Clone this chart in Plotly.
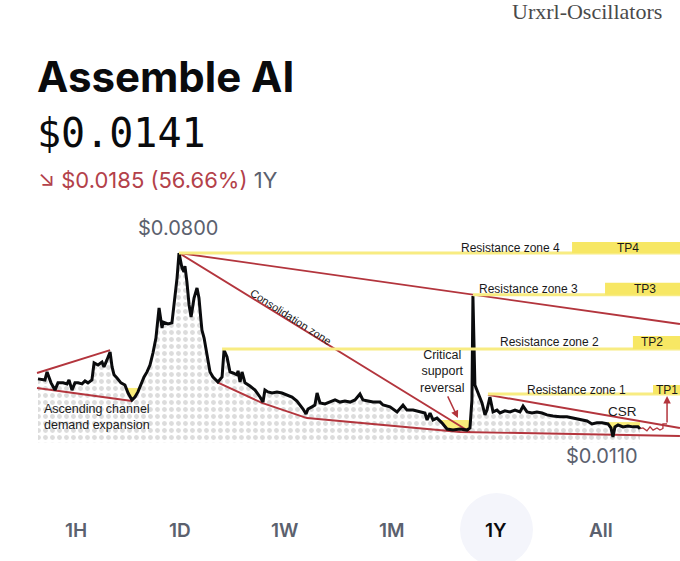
import plotly.graph_objects as go

# ---------------- data ----------------
days = [0, 4.2, 5.5, 7.9, 10.3, 12.1, 15.2, 17.6, 18.8, 20.6, 22.4, 24.3, 26.7, 28.5, 30.3, 32.7,
        34.0, 36.4, 38.8, 40.0, 41.8, 43.7, 44.9, 46.1, 47.9, 50.3, 52.7, 54.6, 57.0, 58.8, 60.6,
        62.4, 64.3, 66.1, 67.9, 69.7, 71.5, 73.4, 74.6, 75.2, 75.8, 77.0, 78.8, 81.2, 82.5, 84.3,
        85.5, 86.7, 87.3, 88.5, 89.1, 90.3, 91.6, 92.8, 94.6, 96.4, 97.6, 98.8, 99.4, 100.7, 102.5,
        104.3, 106.1, 109.1, 111.6, 112.8, 114.6, 116.4, 118.2, 120.7, 121.3, 122.5, 123.7, 125.5,
        128.5, 131.6, 134.6, 136.4, 137.6, 139.4, 141.9, 144.9, 147.9, 151.0, 154.0, 157.0, 158.9,
        160.7, 162.5, 163.7, 166.1, 167.9, 169.2, 171.0, 174.0, 177.0, 180.1, 183.1, 186.1, 189.2,
        192.2, 195.2, 197.0, 200.1, 203.1, 207.4, 209.2, 213.4, 217.7, 221.3, 223.7, 227.4, 231.6,
        234.6, 235.9, 237.7, 239.5, 241.9, 244.9, 248.0, 251.6, 255.9, 260.1, 261.9, 263.1, 263.7,
        264.9, 266.8, 269.2, 271.0, 272.2, 274.0, 275.9, 278.3, 280.1, 283.1, 286.2, 289.2, 292.2,
        294.1, 296.5, 299.5, 302.5, 305.6, 308.6, 312.2, 316.5, 320.7, 324.4, 328.6, 332.9, 335.9,
        338.9, 341.9, 345.6, 347.4, 348.6, 349.8, 351.7, 354.7, 357.7, 360.7, 363.8, 365.0]
prices = [0.0328, 0.0324, 0.0354, 0.0313, 0.0286, 0.0313, 0.0313, 0.0309, 0.0324, 0.0286, 0.0313,
          0.0313, 0.0309, 0.0320, 0.0313, 0.0324, 0.0388, 0.0380, 0.0391, 0.0373, 0.0399, 0.0429,
          0.0373, 0.0343, 0.0331, 0.0313, 0.0305, 0.0275, 0.0249, 0.0260, 0.0279, 0.0309, 0.0335,
          0.0354, 0.0380, 0.0425, 0.0481, 0.0594, 0.0549, 0.0519, 0.0541, 0.0538, 0.0534, 0.0538,
          0.0605, 0.0706, 0.0800, 0.0766, 0.0744, 0.0729, 0.0751, 0.0691, 0.0605, 0.0560, 0.0631,
          0.0669, 0.0631, 0.0549, 0.0511, 0.0481, 0.0410, 0.0354, 0.0335, 0.0316, 0.0335, 0.0436,
          0.0410, 0.0354, 0.0350, 0.0343, 0.0358, 0.0316, 0.0354, 0.0313, 0.0301, 0.0286, 0.0260,
          0.0241, 0.0286, 0.0279, 0.0275, 0.0279, 0.0275, 0.0268, 0.0260, 0.0245, 0.0230, 0.0215,
          0.0196, 0.0215, 0.0223, 0.0230, 0.0275, 0.0238, 0.0234, 0.0241, 0.0249, 0.0241, 0.0245,
          0.0241, 0.0249, 0.0271, 0.0249, 0.0245, 0.0241, 0.0241, 0.0230, 0.0223, 0.0204, 0.0230,
          0.0211, 0.0211, 0.0204, 0.0200, 0.0174, 0.0200, 0.0174, 0.0181, 0.0163, 0.0140, 0.0136,
          0.0140, 0.0136, 0.0144, 0.0249, 0.0639, 0.0305, 0.0275, 0.0238, 0.0193, 0.0211, 0.0260,
          0.0204, 0.0211, 0.0200, 0.0208, 0.0204, 0.0211, 0.0204, 0.0226, 0.0204, 0.0200, 0.0204,
          0.0200, 0.0193, 0.0189, 0.0186, 0.0186, 0.0181, 0.0174, 0.0170, 0.0159, 0.0163, 0.0163,
          0.0159, 0.0144, 0.0110, 0.0148, 0.0155, 0.0148, 0.0151, 0.0148, 0.0148, 0.0141]
base_price = 0.0090

# drawn trend lines
channel_upper_days = [-0.6, 43.7]
channel_upper_prices = [0.0350, 0.0436]
channel_lower_days = [-0.6, 57.0]
channel_lower_prices = [0.0294, 0.0245]
peak_trend_days = [85.5, 389.2]
peak_trend_prices = [0.0800, 0.0534]
consolidation_days = [85.5, 261.9]
consolidation_prices = [0.0800, 0.0129]
support_days = [108.5, 135.8, 163.1, 255.9, 389.2]
support_prices = [0.0316, 0.0238, 0.0181, 0.0129, 0.0114]
falling_days = [272.8, 389.2]
falling_prices = [0.0268, 0.0144]
projection_days = [365.0, 366.8, 369.2, 371.1, 372.9, 375.3, 377.1, 378.9, 378.9, 381.4]
projection_prices = [0.0141, 0.0144, 0.0133, 0.0148, 0.0136, 0.0144, 0.0136, 0.0142, 0.0159, 0.0159]
tp1_target_price = 0.0264
reversal_arrow_days = [248.0, 254.6]
reversal_arrow_prices = [0.0268, 0.0181]

# resistance zones / take-profit targets
zone_names = ["Resistance zone 4", "Resistance zone 3", "Resistance zone 2", "Resistance zone 1"]
tp_names = ["TP4", "TP3", "TP2", "TP1"]
zone_prices = [0.0800, 0.0643, 0.0440, 0.0271]
zone_start_days = [85.5, 263.7, 111.6, 272.8]
tp_start_days = [323.8, 343.8, 360.7, 372.9]
tp_top_prices = [0.0841, 0.0688, 0.0489, 0.0305]

# highlighted demand areas (day0, day1, price0, price1)
hl_days0 = [52.7, 241.9, 345.6]
hl_days1 = [63.1, 263.7, 365.0]
hl_price0 = [0.0249, 0.0133, 0.0129]
hl_price1 = [0.0294, 0.0174, 0.0166]

nav_labels = ["1H", "1D", "1W", "1M", "1Y", "All"]

# ---------------- styling ----------------
W, H = 680, 561
RED = "#b3353d"
YEL_LINE = "rgba(248,236,130,1)"
YEL_BOX = "rgb(247,231,100)"
GRAY = "#5b616e"


def px(x):
    return x / W


def py(y):
    return 1 - y / H


fig = go.Figure()

# baseline for dotted fill
fig.add_trace(go.Scatter(x=days, y=[base_price] * len(days), mode="lines",
                         line=dict(width=0, color="rgba(0,0,0,0)"), hoverinfo="skip",
                         showlegend=False))
fig.add_trace(go.Scatter(x=days, y=prices, mode="lines", fill="tonexty",
                         fillpattern=dict(shape=".", size=7, solidity=0.4,
                                          fgcolor="#b9b9b9", bgcolor="white"),
                         line=dict(color="rgba(0,0,0,0)", width=0),
                         hoverinfo="skip", showlegend=False))

shapes = []
# yellow highlight boxes
for d0, d1, p0, p1 in zip(hl_days0, hl_days1, hl_price0, hl_price1):
    shapes.append(dict(type="rect", xref="x", yref="y", x0=d0, x1=d1, y0=p0, y1=p1,
                       fillcolor="rgba(248,234,100,0.85)", line=dict(width=0), layer="below"))
# resistance lines and TP boxes
for zp, zd, td, tt in zip(zone_prices, zone_start_days, tp_start_days, tp_top_prices):
    shapes.append(dict(type="line", xref="x", yref="y", x0=zd, x1=400, y0=zp, y1=zp,
                       line=dict(color=YEL_LINE, width=3)))
    shapes.append(dict(type="rect", xref="x", yref="y", x0=td, x1=400, y0=zp, y1=tt,
                       fillcolor=YEL_BOX, line=dict(width=0)))
# 1Y pill
shapes.append(dict(type="circle", xref="paper", yref="paper", x0=px(460), x1=px(533),
                   y0=py(566), y1=py(493), fillcolor="#f4f5fb", line=dict(width=0), layer="below"))

for xs, ys in [(channel_upper_days, channel_upper_prices), (channel_lower_days, channel_lower_prices),
               (peak_trend_days, peak_trend_prices), (consolidation_days, consolidation_prices),
               (support_days, support_prices), (falling_days, falling_prices)]:
    fig.add_trace(go.Scatter(x=xs, y=ys, mode="lines", line=dict(color=RED, width=1.9),
                             hoverinfo="skip", showlegend=False))

fig.add_trace(go.Scatter(x=projection_days, y=projection_prices, mode="lines",
                         line=dict(color=RED, width=1.3), hoverinfo="skip", showlegend=False))

# price line
fig.add_trace(go.Scatter(x=days, y=prices, mode="lines",
                         line=dict(color="#0a0b0d", width=3, shape="linear"),
                         hoverinfo="skip", showlegend=False))

ann = []
LAB = dict(family="Liberation Sans, Arial", size=12, color="#1a1a1a")
for name, tp, lx, ly, tx, ty in zip(zone_names, tp_names, [459, 477, 498, 525],
                                    [248, 289, 342, 390], [628, 645, 652, 667], [248, 289, 342, 390]):
    ann.append(dict(text=name, x=px(lx), y=py(ly), xref="paper", yref="paper", xanchor="left",
                    yanchor="middle", showarrow=False, font=LAB))
    ann.append(dict(text=tp, x=px(tx), y=py(ty), xref="paper", yref="paper", xanchor="center",
                    yanchor="middle", showarrow=False, font=LAB))

ann.append(dict(text="Ascending channel<br>demand expansion", x=px(42), y=py(417), xref="paper",
                yref="paper", xanchor="left", yanchor="middle", align="left", showarrow=False,
                font=dict(family="Liberation Sans, Arial", size=12.5, color="#1a1a1a")))
ann.append(dict(text="Critical<br>support<br>reversal", x=px(442), y=py(371), xref="paper",
                yref="paper", xanchor="center", yanchor="middle", align="center", showarrow=False,
                font=dict(family="Liberation Sans, Arial", size=12.5, color="#1a1a1a")))
ann.append(dict(text="Consolidation zone", x=px(291), y=py(317), xref="paper", yref="paper",
                xanchor="center", yanchor="middle", textangle=32.6, showarrow=False,
                font=dict(family="Liberation Sans, Arial", size=11, color="#1a1a1a")))
ann.append(dict(text="CSR", x=px(622), y=py(411), xref="paper", yref="paper", xanchor="center",
                yanchor="middle", showarrow=False,
                font=dict(family="Liberation Sans, Arial", size=13.5, color="#1a1a1a")))
# arrows
ann.append(dict(x=reversal_arrow_days[1], y=reversal_arrow_prices[1], ax=reversal_arrow_days[0],
                ay=reversal_arrow_prices[0], xref="x", yref="y", axref="x", ayref="y", text="",
                showarrow=True, arrowhead=2, arrowsize=1, arrowwidth=1.5, arrowcolor=RED))
ann.append(dict(x=381.4, y=tp1_target_price, ax=381.4, ay=0.0159, xref="x", yref="y", axref="x",
                ayref="y", text="", showarrow=True, arrowhead=2, arrowsize=1, arrowwidth=1.5,
                arrowcolor=RED))

# price tags
ann.append(dict(text="$0.0800", x=px(178), y=py(228), xref="paper", yref="paper",
                xanchor="center", yanchor="middle", showarrow=False,
                font=dict(family="Inter", size=20, color=GRAY)))
ann.append(dict(text="$0.0110", x=px(602), y=py(456), xref="paper", yref="paper",
                xanchor="center", yanchor="middle", showarrow=False,
                font=dict(family="Inter", size=20, color=GRAY)))

# header
ann.append(dict(text="Urxrl-Oscillators", x=px(510), y=py(11), xref="paper", yref="paper",
                xanchor="left", yanchor="middle", showarrow=False,
                font=dict(family="Liberation Serif", size=22, color="#4a4a4a")))
ann.append(dict(text="<b>Assemble AI</b>", x=px(35), y=py(76), xref="paper", yref="paper",
                xanchor="left", yanchor="middle", showarrow=False,
                font=dict(family="Inter", size=42, color="#0a0b0d")))
ann.append(dict(text="$0.0141", x=px(35), y=py(133), xref="paper", yref="paper",
                xanchor="left", yanchor="middle", showarrow=False,
                font=dict(family="DejaVu Sans Mono", size=40, weight=300, color="#0a0b0d")))
ann.append(dict(text="<span style='color:#b3414a'>↘ $0.0185 (56.66%)</span> "
                     "<span style='color:#5b616e'>1Y</span>",
                x=px(36), y=py(180), xref="paper", yref="paper", xanchor="left", yanchor="middle",
                showarrow=False, font=dict(family="Inter", size=22, color="#b3414a")))

# time-range nav
for lab, cx in zip(nav_labels, [76, 180, 284, 392, 496, 601]):
    ann.append(dict(text=lab, x=px(cx), y=py(530), xref="paper", yref="paper", xanchor="center",
                    yanchor="middle", showarrow=False,
                    font=dict(family="Inter", size=19, weight=600,
                              color="#0a0b0d" if lab == "1Y" else GRAY)))

fig.update_layout(
    width=W, height=H, margin=dict(l=0, r=0, t=0, b=0),
    paper_bgcolor="white", plot_bgcolor="white",
    xaxis=dict(range=[-23.04, 389.25], visible=False, fixedrange=True),
    yaxis=dict(range=[-0.0355, 0.17488], visible=False, fixedrange=True),
    shapes=shapes, annotations=ann, showlegend=False,
)

fig.write_html("out.html", config={"displayModeBar": False},
               post_script="document.body.style.margin='0';")
